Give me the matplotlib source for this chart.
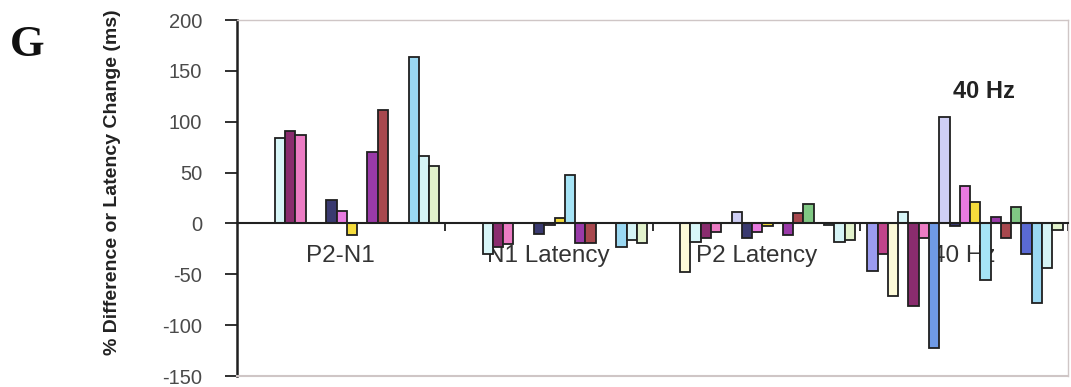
import numpy as np
import matplotlib
matplotlib.use("Agg")
import matplotlib.pyplot as plt
from matplotlib import font_manager

nan = np.nan

categories = ["P2-N1", "N1 Latency", "P2 Latency", "40 Hz"]

# one value per series (19 series) in each category; nan = no bar
p2n1_values = [nan, nan, nan, 84, 91, 87, nan, nan, 23, 12, -11, nan, 70, 112, nan, nan, 164, 66, 56]
n1_latency_values = [nan, nan, nan, -30, -23, -20, nan, nan, -10, -2, 5, 48, -19, -19, nan, nan, -23, -16, -19]
p2_latency_values = [nan, nan, -48, -18, -14, -8.5, nan, 11.5, -14, -8.5, -3, nan, -11.5, 10, 19.5, nan, -2, -18, -16]
hz40_values = [-47, -30, -71, 11.5, -81, -14, -122, 105, -3, 36.5, 21, -55.5, 6, -14, 16, -30, -78, -43.5, -6.5]

series_colors = [
    "#9b9bef", "#c0448a", "#fdfad8", "#d8f6f8", "#8a2c6e", "#ec7cc4",
    "#6f9ae6", "#cfcff5", "#3a3a70", "#e87ae0", "#f5dc3c", "#a6e4f6",
    "#9a3aa8", "#a8484e", "#80c884", "#5a6ad4", "#9ad8f2", "#d6f4f6",
    "#e2f2cc",
]

yticks = [-150, -100, -50, 0, 50, 100, 150, 200]

installed = {f.name for f in font_manager.fontManager.ttflist}
narrow = "Liberation Sans Narrow" in installed
label_family = ["Liberation Sans Narrow", "Liberation Sans", "DejaVu Sans"]
sans = ["Liberation Sans", "DejaVu Sans"]

fig = plt.figure(figsize=(10.71, 3.87), dpi=100)
ax = fig.add_axes([237 / 1071, 11 / 387, 831 / 1071, 356 / 387])

values = np.array([p2n1_values, n1_latency_values, p2_latency_values, hz40_values], dtype=float)
n_cat, n_ser = values.shape
x = np.arange(n_cat)
group = 0.94
w = group / n_ser
for k in range(n_ser):
    xs = x - group / 2 + 0.004 + w * (k + 0.5)
    ax.bar(xs, values[:, k], width=w, color=series_colors[k],
           edgecolor="#202020", linewidth=1.3, zorder=2)

ax.set_xlim(-0.5, n_cat - 0.5)
ax.set_ylim(-150, 200)

# frame: dark value axis on the left, category axis through zero, light box elsewhere
ax.spines["left"].set_color("#202020")
ax.spines["left"].set_linewidth(1.8)
ax.spines["bottom"].set_position(("data", 0))
ax.spines["bottom"].set_color("#202020")
ax.spines["bottom"].set_linewidth(1.5)
ax.spines["bottom"].set_zorder(3)
for side in ("top", "right"):
    ax.spines[side].set_color("#cfc6c6")
    ax.spines[side].set_linewidth(1.0)
ax.axhline(-150, color="#cfc6c6", linewidth=1.5, zorder=3, clip_on=False)

ax.set_yticks(yticks)
ax.set_yticklabels([str(v) for v in yticks], fontsize=14.5, color="#4a4a4a", family=sans)
ax.tick_params(axis="y", direction="out", length=9, width=1.3, color="#202020", pad=16)

ax.set_xticks(np.arange(n_cat) + 0.5)
ax.set_xticklabels([])
ax.tick_params(axis="x", direction="out", length=6, width=1.3, color="#202020")

# category names sit just under the zero line, behind the bars
for i, name in enumerate(categories):
    ax.text(i, -38, name, ha="center", va="baseline", fontsize=17.5,
            color="#333333", family=sans, zorder=1)

ax.text(3.095, 130, "40 Hz", ha="center", va="center", fontsize=17,
        fontweight="bold", color="#222222", family=sans, zorder=4)

ax.set_ylabel("% Difference or Latency Change (ms)", fontsize=16 if narrow else 14,
              fontweight="bold", color="#222222", family=label_family)
ax.yaxis.set_label_coords(-0.14, 0.545)

fig.text(0.0255, 0.885, "G", ha="center", va="center", fontsize=32,
         fontweight="bold", family=["Liberation Serif", "DejaVu Serif"], color="#111111")

fig.savefig("out.png", dpi=100)
